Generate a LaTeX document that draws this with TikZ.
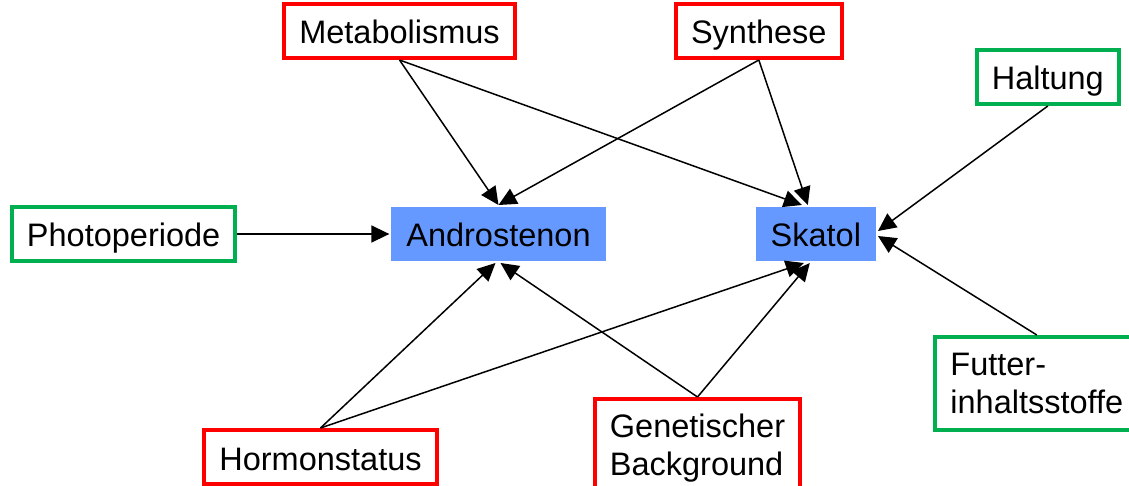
\documentclass[tikz,border=0pt]{standalone}
\usepackage{fontspec}
\setmainfont{Liberation Sans}
\usepackage{xcolor}
\usepackage{tikz}
\usetikzlibrary{positioning}
\usetikzlibrary{arrows.meta}

\definecolor{factorred}{RGB}{255,0,0}
\definecolor{factorgreen}{RGB}{0,176,80}
\definecolor{targetblue}{RGB}{102,153,255}

\begin{document}
\begin{tikzpicture}[
	txtbox/.style={rectangle,line width=4pt,inner xsep=15pt,minimum height=54pt,text height=27pt,text depth=1pt,font=\fontsize{32.5}{38}\selectfont},
	twobox/.style={rectangle,line width=4pt,inner xsep=15pt,align=left,font=\fontsize{32.5}{38}\selectfont},
	target/.style={txtbox,fill=targetblue},
	infl/.style={-{Triangle[length=18pt,width=17pt]},line width=1.5pt}
	]
	\useasboundingbox (0,0) rectangle (1129pt,-486pt);

	\node[target] (andro) at (498.5pt,-234pt) {Androstenon};
	\node[target] (skatol) [right = 146pt of andro] {Skatol};

	\node[txtbox,draw=factorgreen] (photo) [left = 152pt of andro] {Photoperiode};
	\node[txtbox,draw=factorred] (metab) [above = 145pt of andro, xshift=-99pt] {Metabolismus};
	\node[txtbox,draw=factorred] (synth) [above = 145pt of skatol, xshift=-57pt] {Synthese};
	\node[txtbox,draw=factorgreen] (haltung) [above = 99pt of skatol, xshift=232pt] {Haltung};
	\node[twobox,draw=factorgreen,minimum height=93pt] (futter) [below = 72pt of skatol, xshift=221pt] {Futter-\\inhaltsstoffe};
	\node[txtbox,draw=factorred] (hormon) [below = 165pt of andro, xshift=-178pt] {Hormonstatus};
	\node[twobox,draw=factorred,minimum height=98pt] (genet) [below = 134pt of andro, xshift=199pt] {Genetischer\\Background};

	\draw[infl] (photo) -- (andro);
	\draw[infl] (metab.south) -- (andro.north);
	\draw[infl] (metab.south) -- ([xshift=-14pt]skatol.north);
	\draw[infl] (synth.south) -- (andro.north);
	\draw[infl] (synth.south) -- ([xshift=-8pt]skatol.north);
	\draw[infl] (haltung.south) -- ([yshift=3pt]skatol.east);
	\draw[infl] (futter.north) -- ([yshift=-2pt]skatol.east);
	\draw[infl] (hormon.north) -- ([xshift=-3pt]andro.south);
	\draw[infl] (hormon.north) -- ([xshift=-12pt]skatol.south);
	\draw[infl] (genet.north) -- ([xshift=2pt]andro.south);
	\draw[infl] (genet.north) -- ([xshift=-6pt]skatol.south);
\end{tikzpicture}
\end{document}
